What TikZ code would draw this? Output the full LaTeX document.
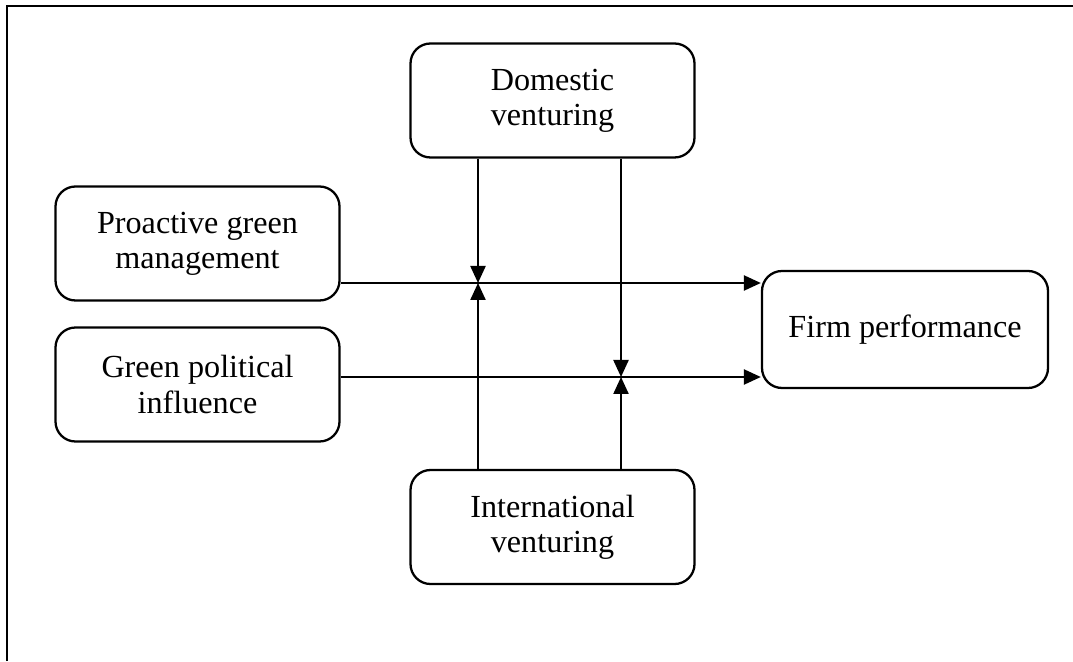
\documentclass[tikz,border=0pt]{standalone}
\usepackage{fontspec}
\setmainfont{Liberation Serif}
\usepackage{tikz}
\usetikzlibrary{arrows.meta, positioning}

\begin{document}
\begin{tikzpicture}[line width=1.3pt,
          box/.style={draw,rounded corners=0.4cm,align=center,inner sep=2pt,
                      minimum width=5.68cm,minimum height=2.28cm,
                      font=\fontsize{18.3}{20}\selectfont},
          link/.style={-{Triangle[length=0.34cm,width=0.3cm]}}]
        \useasboundingbox (0,0) rectangle (21.46,13.22);
        % outer frame: top and left edges only
        \draw (0.14,0) -- (0.14,13.10) -- (21.46,13.10);
        \node[box](dom) at (11.05,11.21)
          {Domestic\\venturing};
        \node[box](pgm) at (3.95,8.35)
          {Proactive green\\management};
        \node[box](gpi) at (3.95,5.53)
          {Green political\\influence};
        \node[box](intl) at (11.05,2.68)
          {International\\venturing};
        \node[box,minimum width=5.72cm,minimum height=2.34cm](firm) at (18.10,6.63)
          {Firm performance};
        % moderation points
        \coordinate (m1) at (9.56,7.56);
        \coordinate (m2) at (12.42,5.68);
        \draw[link](pgm.east|-m1)--(firm.west|-m1);
        \draw[link](gpi.east|-m2)--(firm.west|-m2);
        \draw[link](dom.south-|m1)--(m1);
        \draw[link](intl.north-|m1)--(m1);
        \draw[link](dom.south-|m2)--(m2);
        \draw[link](intl.north-|m2)--(m2);
      \end{tikzpicture}
\end{document}
